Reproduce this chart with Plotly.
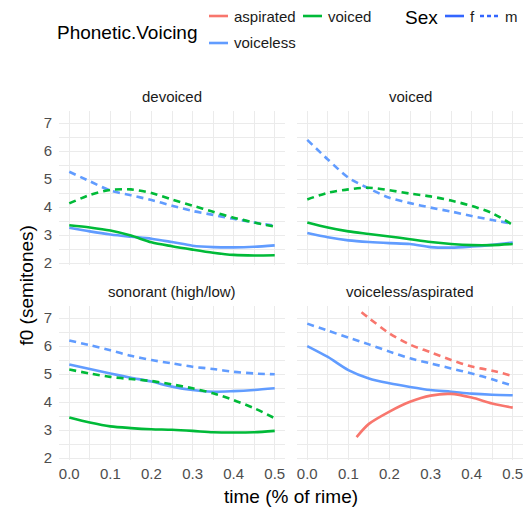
import plotly.graph_objects as go

# ---------------- data ----------------
time = [0.0, 0.05, 0.1, 0.15, 0.2, 0.25, 0.3, 0.35, 0.4, 0.45, 0.5]
time_asp_f = [0.12, 0.15, 0.2, 0.25, 0.3, 0.35, 0.4, 0.45, 0.5]
time_asp_m = [0.132, 0.15, 0.2, 0.25, 0.3, 0.35, 0.4, 0.45, 0.5]

# devoiced
devoiced_voiceless_f = [3.26, 3.13, 3.02, 2.94, 2.87, 2.75, 2.62, 2.57, 2.56, 2.58, 2.63]
devoiced_voiced_f = [3.35, 3.27, 3.16, 2.98, 2.74, 2.60, 2.48, 2.37, 2.29, 2.27, 2.28]
devoiced_voiceless_m = [5.26, 4.92, 4.59, 4.42, 4.25, 4.05, 3.86, 3.72, 3.58, 3.45, 3.33]
devoiced_voiced_m = [4.13, 4.43, 4.61, 4.63, 4.50, 4.27, 4.05, 3.83, 3.62, 3.45, 3.30]

# voiced
voiced_voiceless_f = [3.07, 2.92, 2.81, 2.75, 2.71, 2.68, 2.57, 2.55, 2.59, 2.65, 2.73]
voiced_voiced_f = [3.45, 3.27, 3.13, 3.04, 2.95, 2.85, 2.75, 2.68, 2.64, 2.64, 2.68]
voiced_voiceless_m = [6.40, 5.70, 5.05, 4.66, 4.33, 4.14, 3.98, 3.84, 3.68, 3.54, 3.40]
voiced_voiced_m = [4.27, 4.51, 4.63, 4.69, 4.60, 4.48, 4.38, 4.23, 4.04, 3.78, 3.36]

# sonorant (high/low)
sonorant_voiceless_f = [5.34, 5.18, 5.02, 4.87, 4.73, 4.55, 4.43, 4.37, 4.39, 4.43, 4.49]
sonorant_voiced_f = [3.45, 3.27, 3.13, 3.07, 3.03, 3.01, 2.97, 2.92, 2.91, 2.92, 2.97]
sonorant_voiceless_m = [6.20, 6.03, 5.85, 5.65, 5.50, 5.38, 5.26, 5.18, 5.08, 5.02, 4.99]
sonorant_voiced_m = [5.16, 5.02, 4.90, 4.82, 4.75, 4.63, 4.49, 4.31, 4.07, 3.78, 3.42]

# voiceless/aspirated
vlasp_voiceless_f = [6.00, 5.61, 5.14, 4.84, 4.67, 4.54, 4.43, 4.37, 4.30, 4.26, 4.24]
vlasp_voiceless_m = [6.80, 6.55, 6.30, 6.06, 5.80, 5.56, 5.38, 5.20, 5.02, 4.81, 4.58]
vlasp_aspirated_f = [2.75, 3.22, 3.66, 4.01, 4.23, 4.29, 4.16, 3.95, 3.80]
vlasp_aspirated_m = [7.21, 7.00, 6.45, 6.05, 5.78, 5.50, 5.27, 5.12, 4.93]

facet_labels = ["devoiced", "voiced", "sonorant (high/low)", "voiceless/aspirated"]
voicing_levels = ["aspirated", "voiced", "voiceless"]
sex_levels = ["f", "m"]
y_ticks = [2, 3, 4, 5, 6, 7]
x_ticks = [0.0, 0.1, 0.2, 0.3, 0.4, 0.5]

# ---------------- styling ----------------
COLORS = {"aspirated": "#F8766D", "voiced": "#00BA38", "voiceless": "#619CFF"}
DASH = {"f": "solid", "m": "7px,5px"}
FONT = "Liberation Sans, Arial, Helvetica, sans-serif"
OFF = 8                      # default page (body) margin of the html page
W, H = 532 - 2 * OFF, 507 - OFF
ML, MT = 59 - OFF, 111 - OFF
MR = W - (523 - OFF)
MB = H - (460 - OFF)
PW, PH = W - ML - MR, H - MT - MB


def px_x(p):
    """page pixel -> paper x"""
    return (p - OFF - ML) / PW


def px_y(p):
    """page pixel -> paper y"""
    return (H - MB - (p - OFF)) / PH


fig = go.Figure()

series = [
    (1, time, devoiced_voiceless_f, "voiceless", "f"),
    (1, time, devoiced_voiced_f, "voiced", "f"),
    (1, time, devoiced_voiceless_m, "voiceless", "m"),
    (1, time, devoiced_voiced_m, "voiced", "m"),
    (2, time, voiced_voiceless_f, "voiceless", "f"),
    (2, time, voiced_voiced_f, "voiced", "f"),
    (2, time, voiced_voiceless_m, "voiceless", "m"),
    (2, time, voiced_voiced_m, "voiced", "m"),
    (3, time, sonorant_voiceless_f, "voiceless", "f"),
    (3, time, sonorant_voiced_f, "voiced", "f"),
    (3, time, sonorant_voiceless_m, "voiceless", "m"),
    (3, time, sonorant_voiced_m, "voiced", "m"),
    (4, time, vlasp_voiceless_f, "voiceless", "f"),
    (4, time, vlasp_voiceless_m, "voiceless", "m"),
    (4, time_asp_f, vlasp_aspirated_f, "aspirated", "f"),
    (4, time_asp_m, vlasp_aspirated_m, "aspirated", "m"),
]

for panel, xs, ys, voicing, sex in series:
    suffix = "" if panel == 1 else str(panel)
    fig.add_trace(go.Scatter(
        x=xs, y=ys, mode="lines",
        line=dict(color=COLORS[voicing], width=2.6, dash=DASH[sex],
                  shape="spline", smoothing=0.8),
        xaxis="x" + suffix, yaxis="y" + suffix,
        showlegend=False, hoverinfo="skip",
    ))

# panel geometry in page pixels
panels_px = {
    1: (59, 285, 111, 265),
    2: (297, 523, 111, 265),
    3: (59, 285, 306, 460),
    4: (297, 523, 306, 460),
}

grid = dict(showgrid=True, gridcolor="#ebebeb", gridwidth=1.4, zeroline=False,
            showline=False, ticks="")
layout_axes = {}
for panel, (x0, x1, y0, y1) in panels_px.items():
    suffix = "" if panel == 1 else str(panel)
    xa = dict(grid, domain=[px_x(x0), px_x(x1)], range=[-0.025, 0.525],
              anchor="y" + suffix, tickvals=x_ticks, tickformat=".1f",
              showticklabels=panel in (3, 4), ticklabelstandoff=3,
              tickfont=dict(family=FONT, size=15, color="#4d4d4d"),
              minor=dict(dtick=0.05, tick0=0, showgrid=True,
                         gridcolor="#ebebeb", gridwidth=0.8))
    ya = dict(grid, domain=[px_y(y1), px_y(y0)], range=[1.93, 7.43],
              anchor="x" + suffix, tickvals=y_ticks,
              showticklabels=panel in (1, 3), ticklabelstandoff=6,
              tickfont=dict(family=FONT, size=15, color="#4d4d4d"),
              minor=dict(dtick=0.5, tick0=0, showgrid=True,
                         gridcolor="#ebebeb", gridwidth=0.8))
    layout_axes["xaxis" + suffix] = xa
    layout_axes["yaxis" + suffix] = ya

annotations = []
# strip labels
for panel, label in zip([1, 2, 3, 4], facet_labels):
    x0, x1, y0, y1 = panels_px[panel]
    annotations.append(dict(
        text=label, x=px_x((x0 + x1) / 2), y=px_y(y0 - 15),
        xref="paper", yref="paper", xanchor="center", yanchor="middle",
        showarrow=False, font=dict(family=FONT, size=15, color="#1a1a1a")))

# axis titles
annotations.append(dict(
    text="time (% of rime)", x=px_x((59 + 523) / 2), y=px_y(496),
    xref="paper", yref="paper", xanchor="center", yanchor="middle",
    showarrow=False, font=dict(family=FONT, size=19, color="#000000")))
annotations.append(dict(
    text="f0 (semitones)", x=px_x(26), y=px_y((111 + 460) / 2), textangle=-90,
    xref="paper", yref="paper", xanchor="center", yanchor="middle",
    showarrow=False, font=dict(family=FONT, size=19, color="#000000")))

# legend (drawn as text + key lines)
shapes = []
annotations.append(dict(
    text="Phonetic.Voicing", x=px_x(55), y=px_y(32),
    xref="paper", yref="paper", xanchor="left", yanchor="middle",
    showarrow=False, font=dict(family=FONT, size=19, color="#000000")))
annotations.append(dict(
    text="Sex", x=px_x(403), y=px_y(17),
    xref="paper", yref="paper", xanchor="left", yanchor="middle",
    showarrow=False, font=dict(family=FONT, size=19, color="#000000")))

legend_keys = [
    ("aspirated", COLORS["aspirated"], "solid", 209, 16),
    ("voiced", COLORS["voiced"], "solid", 303, 16),
    ("voiceless", COLORS["voiceless"], "solid", 209, 43),
    ("f", "#3366FF", "solid", 445, 16),
    ("m", "#3366FF", "4px,3px", 480, 16),
]
for label, color, dash, kx, ky in legend_keys:
    shapes.append(dict(type="line", xref="paper", yref="paper",
                       x0=px_x(kx), x1=px_x(kx + 19), y0=px_y(ky), y1=px_y(ky),
                       line=dict(color=color, width=2.6, dash=dash)))
    annotations.append(dict(
        text=label, x=px_x(kx + 23), y=px_y(ky),
        xref="paper", yref="paper", xanchor="left", yanchor="middle",
        showarrow=False, font=dict(family=FONT, size=15, color="#1a1a1a")))

fig.update_layout(
    width=W, height=H,
    margin=dict(l=ML, r=MR, t=MT, b=MB, autoexpand=False),
    paper_bgcolor="white", plot_bgcolor="white",
    showlegend=False,
    annotations=annotations, shapes=shapes,
    font=dict(family=FONT),
    **layout_axes,
)

fig.write_html("out.html")
